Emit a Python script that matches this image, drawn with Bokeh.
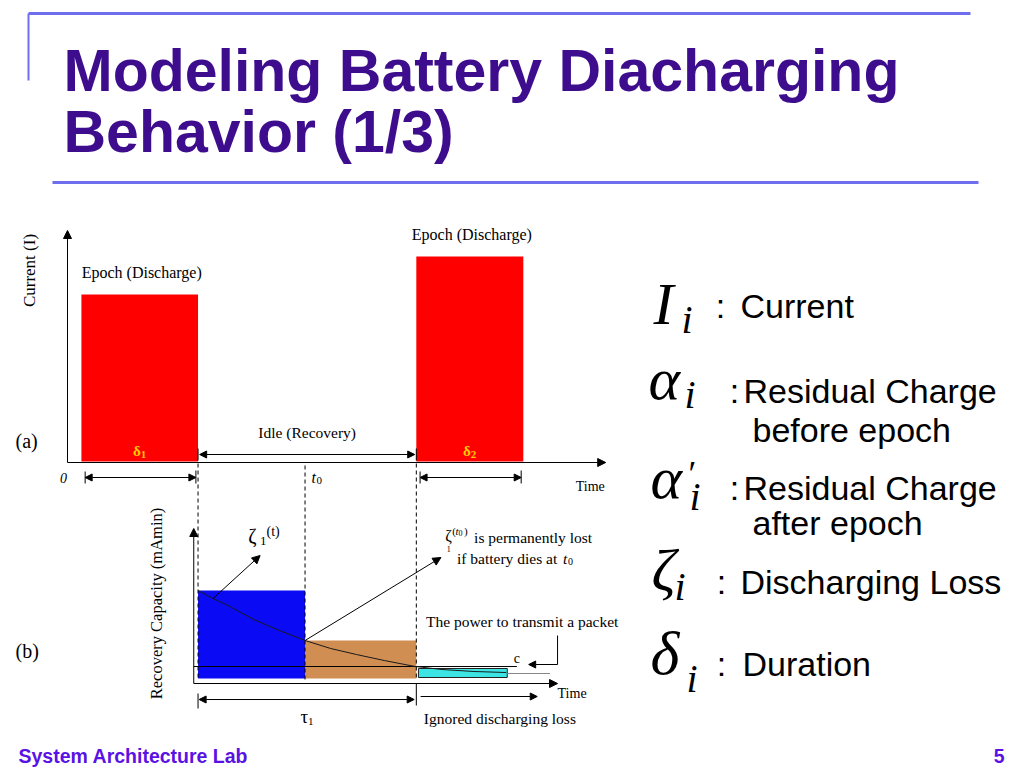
from bokeh.plotting import figure
from bokeh.models import Range1d, Arrow, NormalHead
from bokeh.core.properties import value
from bokeh.embed import file_html
from bokeh.resources import INLINE
import math

# ---------------- data ----------------
# Panel (a): discharge epochs  (time units, current units)
epoch_names = ["Epoch (Discharge)", "Epoch (Discharge)"]
epoch_start = [1.3, 32.6]
epoch_end = [12.2, 42.6]
epoch_current = [8.4, 10.3]
epoch_delta = ["1", "2"]
t0 = 22.2

# Panel (b): recovery capacity blocks (time, mAmin units)
rec_start = [12.2, 22.2, 32.8]
rec_end = [22.2, 32.6, 41.1]
rec_bottom = [0.5, 0.5, 0.6]
rec_top = [9.3, 4.3, 1.5]
rec_colors = ["#0A0AF5", "#D08E52", "#3CE4E4"]

# decaying discharging-loss curve zeta_1(t)
curve_t = [12.2, 13.6, 15.0, 17.4, 19.8, 22.2, 24.6, 27.0, 29.6, 32.5, 35.0, 38.0, 41.0]
curve_cap = [9.3, 8.5, 7.8, 6.4, 5.3, 4.3, 3.5, 2.9, 2.3, 1.7, 1.4, 1.2, 1.1]
tail_t = [41.1, 45.1]
tail_cap = [1.0, 1.0]
c_level = 1.7

# right-hand glossary
gloss_desc = ["Current", "Residual Charge", "Residual Charge", "Discharging Loss", "Duration"]
gloss_desc2 = ["", "before epoch", "after epoch", "", ""]

# ---------------- styling ----------------
TITLE = "#3D0D8E"
FOOT = "#5A12E4"
RULE = "#6E6EEE"
SERIF = "Liberation Serif"
SANS = "Liberation Sans"

X_PX0, X_K = 67.0, 10.7          # time axis: page px = 67 + 10.7 * t
p = figure(width=1024, height=768,
           x_range=Range1d((0 - X_PX0) / X_K, (1024 - X_PX0) / X_K),
           y_range=Range1d(768, 0),
           x_axis_type=None, y_axis_type=None,
           output_backend="svg", toolbar_location=None, min_border=0)
p.extra_x_ranges = {"page": Range1d(0, 1024)}
p.extra_y_ranges = {"cur": Range1d((462 - 768) / 20, 462 / 20),
                    "cap": Range1d((683 - 768) / 10, 683 / 10)}
p.grid.visible = False
p.outline_line_color = None
p.background_fill_color = "white"
p.border_fill_color = "white"


def T(x, y, s, size, font=SERIF, style="normal", color="black", align="left",
      baseline="middle", angle=0.0, xr="default", yr="default", xo=0, yo=0):
    p.text(x=[x], y=[y], text=[s], text_font=value(font),
           text_font_size=value(f"{size}px"), text_font_style=style,
           text_color=color, text_align=align, text_baseline=baseline,
           angle=angle, x_offset=xo, y_offset=yo, x_range_name=xr, y_range_name=yr)


def A(x0, y0, x1, y1, both=False, yr="default", size=8):
    end = NormalHead(size=size, fill_color="black", line_color="black", line_width=1)
    start = NormalHead(size=size, fill_color="black", line_color="black",
                       line_width=1) if both else None
    p.add_layout(Arrow(start=start, end=end, x_start=x0, y_start=y0, x_end=x1,
                       y_end=y1, line_width=1, line_color="black", y_range_name=yr))


def L(xs, ys, yr="default", xr="default", color="black", w=1, dash="solid"):
    p.line(x=xs, y=ys, x_range_name=xr, y_range_name=yr, line_color=color,
           line_width=w, line_dash=dash)


# ---------------- slide frame ----------------
L([28, 970], [13, 13], xr="page", color=RULE, w=3)
L([28, 28], [13, 80], xr="page", color=RULE, w=2)
L([52, 978], [182, 182], xr="page", color=RULE, w=3)
T(63, 70, "Modeling Battery Diacharging", 59, font=SANS, style="bold", color=TITLE, xr="page")
T(63, 131, "Behavior (1/3)", 59, font=SANS, style="bold", color=TITLE, xr="page")
T(18, 755, "System Architecture Lab", 19.5, font=SANS, style="bold", color=FOOT, xr="page")
T(1004, 755, "5", 19.5, font=SANS, style="bold", color=FOOT, align="right", xr="page")

# ---------------- panel (a) ----------------
p.quad(left=epoch_start, right=epoch_end, bottom=0.05, top=epoch_current,
       fill_color="#FF0000", line_color=None, y_range_name="cur")
A(0, 0, 0, 11.6, yr="cur")
A(0, 0, 50.3, 0, yr="cur")
for s, e, c, n, d in zip(epoch_start, epoch_end, epoch_current, epoch_names, epoch_delta):
    mid = (s + e) / 2
    T(mid, c + 1.1, n, 16, align="center", yr="cur", xo=2)
    T(mid, 0.6, "δ", 15, style="bold", color="#FFCC00", align="right", yr="cur", xo=1)
    T(mid, 0.6, d, 11, style="bold", color="#FFCC00", align="left", yr="cur", xo=1, yo=4)
    # duration arrow with end ticks
    A(s + 0.35, -0.75, e - 0.2, -0.75, both=True, yr="cur", size=7)
    L([s + 0.35, s + 0.35], [-0.45, -1.05], yr="cur")
    L([e - 0.2, e - 0.2], [-0.4, -1.05], yr="cur")
# idle arrow between epochs
A(epoch_end[0] + 0.15, 0.4, epoch_start[1] - 0.15, 0.4, both=True, yr="cur", size=7)
L([epoch_end[0], epoch_end[0]], [0.7, 0.1], yr="cur")
L([epoch_start[1], epoch_start[1]], [0.7, 0.1], yr="cur")
T((epoch_end[0] + epoch_start[1]) / 2, 1.5, "Idle (Recovery)", 15.5, align="center", yr="cur")
T(-0.37, -0.75, "0", 14, style="italic", align="center", yr="cur")
T(t0 + 0.8, -0.75, "t", 16, style="italic", align="center", yr="cur")
T(t0 + 0.8, -0.75, "0", 11, align="left", yr="cur", xo=3, yo=3)
T(47.5, -1.2, "Time", 14, yr="cur")
T(15, 440, "(a)", 20, xr="page")
T(29, 270, "Current (I)", 17, align="center", angle=math.pi / 2, xr="page")

# ---------------- panel (b) ----------------
p.quad(left=rec_start, right=rec_end, bottom=rec_bottom, top=rec_top,
       fill_color=rec_colors, line_color=[None, None, "#222222"], line_width=1,
       y_range_name="cap")

# dashed guide lines spanning both panels (page y), drawn over the blocks
for t in [epoch_end[0], epoch_start[1]]:
    L([t, t], [463, 680], dash="4 3")
L([t0, t0], [465, 680], dash="4 3")

L([11.8, 42.0], [c_level, c_level], yr="cap")
L(curve_t, curve_cap, yr="cap", color="#1a1a1a")
L(tail_t, tail_cap, yr="cap", color="#888888")
A(11.8, 0, 11.8, 15.5, yr="cap")
A(11.8, 0, 45.8, 0, yr="cap")
# tau_1 and ignored-loss arrows
A(epoch_end[0] + 0.1, -1.6, epoch_start[1] - 0.2, -1.6, both=True, yr="cap", size=7)
L([epoch_end[0], epoch_end[0]], [-1.0, -2.5], yr="cap")
L([epoch_start[1], epoch_start[1]], [0.0, -2.2], yr="cap")
A(33.0, -1.3, 43.9, -1.3, yr="cap", size=7)
T(22.3, -3.3, "τ", 19, align="right", yr="cap", xo=2)
T(22.3, -3.3, "1", 11, align="left", yr="cap", xo=2, yo=5)
T(45.8, -1.0, "Time", 14, yr="cap")
T(33.3, -3.5, "Ignored discharging loss", 15.5, yr="cap")
# zeta_1(t) annotation
A(13.6, 8.5, 18.0, 12.8, yr="cap", size=8)
T(16.9, 14.8, "ζ", 20, yr="cap")
T(18.0, 14.3, "1", 13, yr="cap")
T(18.6, 15.2, "(t)", 14, yr="cap")
# permanently-lost annotation
A(t0, 4.3, 34.9, 12.6, yr="cap", size=8)
T(35.3, 14.8, "ζ", 16, yr="cap")
T(35.45, 13.5, "1", 8, yr="cap")
T(35.95, 15.3, "(", 11, yr="cap")
T(36.25, 15.3, "t", 11, style="italic", yr="cap")
T(36.55, 15.1, "0", 8, yr="cap")
T(37.05, 15.3, ")", 11, yr="cap")
T(38.0, 14.6, "is permanently lost", 15.5, yr="cap")
T(36.4, 12.5, "if battery dies at", 15.5, yr="cap")
T(46.3, 12.5, "t", 15.5, style="italic", yr="cap")
T(46.3, 12.5, "0", 10, yr="cap", xo=5, yo=3)
# packet power annotation
T(33.5, 6.2, "The power to transmit a packet", 15.5, yr="cap")
T(41.7, 2.5, "c", 14, yr="cap")
L([45.8, 45.8], [4.8, 1.9], yr="cap")
A(45.8, 1.9, 43.1, 1.9, yr="cap", size=7)
T(15, 650, "(b)", 20, xr="page")
T(156, 603, "Recovery Capacity (mAmin)", 16.5, align="center", angle=math.pi / 2, xr="page")

# ---------------- glossary (right) ----------------
T(653, 303, "I", 60, style="italic", xr="page")
T(681, 319, "i", 40, style="italic", xr="page")
T(648, 378, "α", 60, style="italic", xr="page")
T(684, 394, "i", 40, style="italic", xr="page")
T(650, 477, "α", 60, style="italic", xr="page")
T(688, 473, "′", 36, xr="page")
T(689, 496, "i", 40, style="italic", xr="page")
T(651, 569, "ζ", 60, style="italic", xr="page")
T(674, 586, "i", 40, style="italic", xr="page")
T(650, 652, "δ", 62, style="italic", xr="page")
T(686, 678, "i", 40, style="italic", xr="page")

colon_x = [720, 734, 734, 721, 721]
desc_x = [740, 743, 743, 740, 742]
desc_y = [305, 390, 487, 581, 663]
desc2_x = [0, 752, 752, 0, 0]
desc2_y = [0, 429, 522, 0, 0]
for cx, dx, dy, d, d2, d2x, d2y in zip(colon_x, desc_x, desc_y, gloss_desc,
                                      gloss_desc2, desc2_x, desc2_y):
    T(cx, dy, ":", 34, font=SANS, align="center", xr="page")
    T(dx, dy, d, 34, font=SANS, xr="page")
    if d2:
        T(d2x, d2y, d2, 34, font=SANS, xr="page")

open("out.html", "w").write(file_html(p, INLINE))
